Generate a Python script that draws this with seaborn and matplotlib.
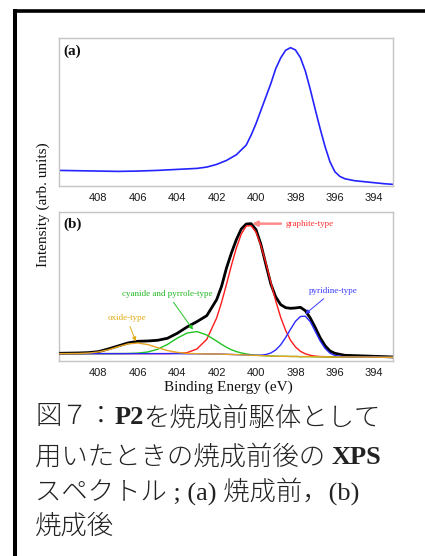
import matplotlib
matplotlib.use("Agg")
import matplotlib.pyplot as plt
import seaborn as sns
import pandas as pd
from matplotlib.lines import Line2D

# ---------------- data ----------------
xticks = [408, 406, 404, 402, 400, 398, 396, 394]

# panel (a): before firing
energy_a = [410, 409, 408, 407, 406, 405, 404, 403, 402.5, 402, 401.5, 401, 400.5, 400.25,
            400, 399.75, 399.5, 399.25, 399, 398.75, 398.5, 398.25, 398, 397.75, 397.5,
            397.25, 397, 396.75, 396.5, 396.25, 396, 395.75, 395.5, 395, 394.5, 394, 393.5, 393.05]
intensity_a = [46, 45, 44, 43, 44, 46, 49, 52, 56, 64, 76, 93, 122, 152,
               187, 227, 267, 307, 352, 384, 407, 415, 408, 385, 345,
               290, 230, 172, 118, 72, 42, 28, 21, 15, 12, 9, 6, 4]

# panel (b): after firing
energy_b = [410, 409.5, 409, 408.5, 408, 407.5, 407, 406.5, 406, 405.5, 405, 404.5, 404,
            403.5, 403, 402.5, 402, 401.75, 401.5, 401.25, 401, 400.75, 400.5, 400.25,
            400, 399.75, 399.5, 399.25, 399, 398.75, 398.5, 398.25, 398, 397.75, 397.5,
            397.25, 397, 396.75, 396.5, 396.25, 396, 395.5, 395, 394.5, 394, 393.5, 393.05]
total_b = [24, 24.5, 25, 26, 29, 37, 46, 55, 60, 61, 63, 69, 84,
           103, 119, 137, 185, 225, 280, 325, 365, 397, 412, 413,
           395, 350, 290, 232, 193, 170, 161, 159, 160, 162, 152,
           130, 102, 71, 47, 31, 24, 18, 17, 16, 15, 14, 13]
graphite_b = [23, 23, 23, 23, 23, 23, 23, 23, 23, 23, 23, 23, 24,
              26, 37, 66, 130, 177, 231, 288, 340, 382, 406, 407,
              387, 347, 295, 237, 181, 132, 93, 63, 43, 30, 22.5,
              18, 15.5, 14.4, 14, 13, 13, 13, 13, 12.5, 12.5, 12, 12]
cyanide_pyrrole_b = [23, 23, 23, 23, 23, 23, 23.1, 23.4, 24.5, 27.9, 36, 50.5, 69.4,
                     84.8, 89.2, 78.9, 60.7, 50.8, 42, 34.7, 29.1, 25, 22.1, 19.7,
                     18.4, 17.4, 16.6, 16, 15.5, 15, 15, 14.5, 14.5, 14, 14,
                     14, 13.5, 13.5, 13.5, 13, 13, 13, 13, 12.5, 12.5, 12, 12]
pyridine_b = [23, 23, 23, 23, 23, 23, 23, 23, 23, 23, 23, 23, 23,
              22.5, 22.5, 22, 22, 21.5, 21, 20.5, 20, 19.5, 19, 18.2,
              18, 18.4, 20.3, 24.9, 34.1, 49.4, 71.3, 96.3, 119.9, 134.4, 135.4,
              118.9, 90.5, 61.5, 39, 24.5, 17.4, 13.4, 13, 12.5, 12.5, 12, 12]
oxide_b = [23, 23.1, 23.4, 24.7, 28, 34.5, 43.8, 52.2, 54.9, 50.2, 41.1, 32.3, 26.8,
           23.7, 22.8, 22, 22, 21.5, 21, 20.5, 20, 19.5, 19, 18,
           17.5, 17, 16.5, 16, 15.5, 15, 15, 14.5, 14.5, 14, 14,
           14, 13.5, 13.5, 13.5, 13, 13, 13, 13, 12.5, 12.5, 12, 12]

labels_b = ["graphite-type", "pyridine-type", "cyanide and pyrrole-type", "oxide-type"]
caption_runs = [
    [("図７：", "light"), ("P2", "bold"), ("を焼成前駆体として", "light")],
    [("用いたときの焼成前後の ", "light"), ("XPS", "bold")],
    [("スペクトル ; (a) 焼成前，(b)", "light")],
    [("焼成後", "light")],
]

# ---------------- styling ----------------
sns.set_theme(style="white")
plt.rcParams["font.family"] = ["Liberation Serif", "Noto Sans CJK JP", "DejaVu Sans"]

W, H = 425, 556
fig = plt.figure(figsize=(W / 100, H / 100), dpi=100)
fig.patch.set_facecolor("white")


def rect(l, t, r, b):
    return [l / W, 1 - b / H, (r - l) / W, (b - t) / H]


ax_a = fig.add_axes(rect(59, 38, 393, 185.7))
ax_b = fig.add_axes(rect(59, 212, 393, 361.3))

sns.lineplot(data=pd.DataFrame({"E": energy_a, "I": intensity_a}), x="E", y="I",
             ax=ax_a, color="#2424ff", lw=1.2, estimator=None, sort=False)

df_b = pd.DataFrame({"E": energy_b, "total": total_b, "graphite": graphite_b,
                     "cyan": cyanide_pyrrole_b, "pyr": pyridine_b, "oxide": oxide_b})
sns.lineplot(data=df_b, x="E", y="total", ax=ax_b, color="black", lw=2.0,
             estimator=None, sort=False, zorder=5)
sns.lineplot(data=df_b, x="E", y="graphite", ax=ax_b, color="#ff1a1a", lw=1.0,
             estimator=None, sort=False, zorder=6)
sns.lineplot(data=df_b, x="E", y="cyan", ax=ax_b, color="#22c422", lw=1.0,
             estimator=None, sort=False, zorder=6)
sns.lineplot(data=df_b, x="E", y="pyr", ax=ax_b, color="#2a2aff", lw=1.0,
             estimator=None, sort=False, zorder=6)
sns.lineplot(data=df_b, x="E", y="oxide", ax=ax_b, color="#e6a422", lw=1.0,
             estimator=None, sort=False, zorder=7)

for ax, ylim, tag, ty in [(ax_a, (0, 444), "(a)", 0.953), (ax_b, (0, 448), "(b)", 0.96)]:
    ax.set_xlim(410, 393.05)
    ax.set_ylim(*ylim)
    ax.set_xticks(xticks)
    ax.set_xticklabels([str(t) for t in xticks],
                       fontfamily=["Liberation Sans Narrow", "Liberation Sans", "DejaVu Sans"])
    ax.set_yticks([])
    ax.set_xlabel("")
    ax.set_ylabel("")
    ax.tick_params(axis="x", length=0, pad=5, labelsize=8, labelcolor="#1a1a1a")
    for sp in ax.spines.values():
        sp.set_color("#c4c4c4")
        sp.set_linewidth(1.0)
    ax.text(0.013, ty, tag, transform=ax.transAxes, ha="left", va="top",
            fontsize=11, fontweight="bold", color="#111111")

ann_font = dict(fontsize=6.5, family="Liberation Serif")
ax_b.annotate(labels_b[0], xy=(400.2, 413), xytext=(398.5, 413), ha="left", va="center",
              color="#ff3030", **ann_font,
              arrowprops=dict(arrowstyle="-|>", color="#ff8a8a", lw=1.8, mutation_scale=7,
                              shrinkA=1, shrinkB=0), zorder=10)
ax_b.annotate(labels_b[1], xy=(397.5, 142), xytext=(396.07, 212), ha="center", va="center",
              color="#3a3aff", **ann_font,
              arrowprops=dict(arrowstyle="-|>", color="#3a3aff", lw=0.7, mutation_scale=6,
                              shrinkA=1, shrinkB=0), zorder=10)
ax_b.annotate(labels_b[2], xy=(403.2, 95), xytext=(404.49, 202), ha="center", va="center",
              color="#22b822", **ann_font,
              arrowprops=dict(arrowstyle="-|>", color="#22c422", lw=0.7, mutation_scale=6,
                              shrinkA=1, shrinkB=0), zorder=10)
ax_b.annotate(labels_b[3], xy=(406.1, 60), xytext=(406.57, 130), ha="center", va="center",
              color="#e0aa10", **ann_font,
              arrowprops=dict(arrowstyle="-|>", color="#e0aa10", lw=0.7, mutation_scale=6,
                              shrinkA=1, shrinkB=0), zorder=10)

fig.text(43.5 / W, 1 - 204.5 / H, "Intensity (arb. units)", rotation=90, ha="center",
         va="center", fontsize=11, color="#111111")
fig.text(228 / W, 1 - 387.7 / H, "Binding Energy (eV)", ha="center", va="center",
         fontsize=11, color="#111111")

# caption
renderer = fig.canvas.get_renderer()
line_y = [418, 457, 491, 526]
for runs, yc in zip(caption_runs, line_y):
    x = 35.0
    for txt, wt in runs:
        t = fig.text(x / W, 1 - yc / H, txt, ha="left", va="center", fontsize=19,
                     fontweight=wt, color="#222222")
        bb = t.get_window_extent(renderer)
        x += bb.width

# black frame lines
fig.add_artist(Line2D([13 / W, 1.0], [1 - 10.5 / H, 1 - 10.5 / H], color="black",
                      lw=2.6, transform=fig.transFigure, solid_capstyle="butt"))
fig.add_artist(Line2D([15 / W, 15 / W], [0, 1 - 9 / H], color="black",
                      lw=2.9, transform=fig.transFigure, solid_capstyle="butt"))

fig.savefig("out.png", dpi=100)
